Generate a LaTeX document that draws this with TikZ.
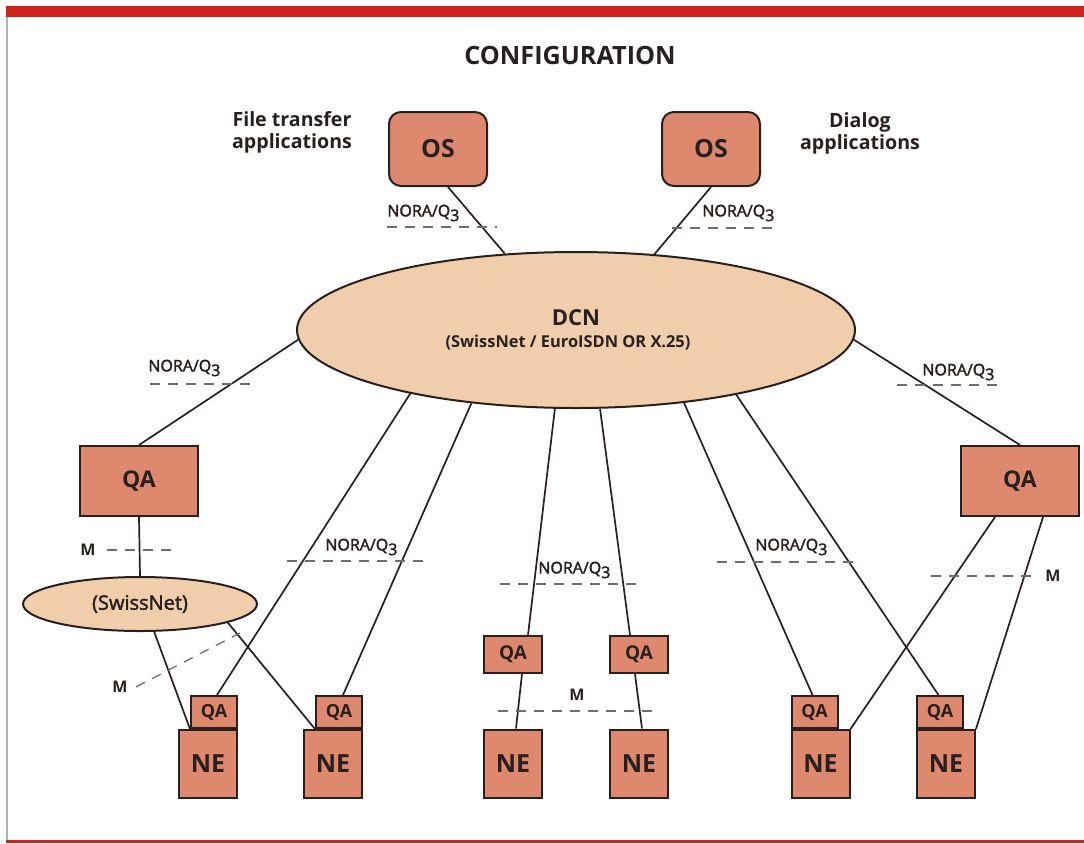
\documentclass[tikz,border=0pt]{standalone}
\usepackage{fontspec}
\setmainfont{Open Sans}
\newfontfamily\medfont{Open Sans}[FakeBold=2.2]
\usetikzlibrary{shapes.geometric}
\definecolor{bandred}{RGB}{208,36,26}
\definecolor{boxsalmon}{RGB}{222,137,110}
\definecolor{netpeach}{RGB}{240,206,172}
\definecolor{inkdark}{RGB}{40,32,30}
\definecolor{dashgrey}{RGB}{112,108,108}
\newcommand{\noraq}{NORA/Q\raisebox{-0.55ex}{3}}

\begin{document}
\begin{tikzpicture}[x=0.5pt,y=-0.5pt,
  box/.style={draw=inkdark, line width=1pt, fill=boxsalmon, text=inkdark, inner sep=0pt},
  osbox/.style={box, rounded corners=6pt, minimum width=49pt, minimum height=37pt, font=\fontsize{12.5}{14}\selectfont\bfseries},
  bigqa/.style={box, minimum width=59pt, minimum height=35pt, font=\fontsize{11.5}{13}\selectfont\bfseries},
  nebox/.style={box, minimum width=29pt, minimum height=34pt, font=\fontsize{12.5}{14}\selectfont\bfseries},
  smallqa/.style={box, minimum width=23pt, minimum height=16pt, font=\fontsize{9}{10}\selectfont\bfseries},
  midqa/.style={box, minimum width=29pt, minimum height=18.5pt, font=\fontsize{9.5}{11}\selectfont\bfseries},
  dcnnet/.style={ellipse, draw=inkdark, line width=1pt, fill=netpeach, text=inkdark, inner sep=0pt,
    minimum width=279pt, minimum height=78pt, align=center, font=\fontsize{11}{10}\selectfont\bfseries},
  swnet/.style={ellipse, draw=inkdark, line width=1pt, fill=netpeach, text=inkdark, inner sep=0pt,
    minimum width=117pt, minimum height=27pt, font=\fontsize{10}{11}\medfont},
  applabel/.style={align=center, text=inkdark, font=\fontsize{9.8}{11}\selectfont\bfseries},
  reflabel/.style={anchor=west, inner sep=0pt, text=inkdark, font=\fontsize{8}{10}\medfont},
  mlabel/.style={inner sep=0pt, text=inkdark, font=\fontsize{8}{10}\selectfont\bfseries},
  refline/.style={draw=dashgrey, line width=0.65pt, dash pattern=on 5pt off 4pt},
  link/.style={draw=inkdark, line width=0.85pt}]
\useasboundingbox (0,0) rectangle (1084,843);

% page frame
\fill[bandred] (6,6) rectangle (1084,17);
\draw[gray!60, line width=0.6pt] (7,17) -- (7,840);
\fill[bandred] (6,840) rectangle (1084,843);

\node[text=inkdark, font=\fontsize{12.6}{14}\selectfont\bfseries] (title) at (570,55) {CONFIGURATION};

% operations systems
\node[osbox] (osft) at (438,149) {OS};
\node[osbox] (osdlg) at (711,149) {OS};
\node[applabel] (ftapp) at (292,132) {File transfer\\applications};
\node[applabel] (dlgapp) at (860,133) {Dialog\\applications};

% data communication network
\node[dcnnet] (dcn) at (576,330) {DCN\\[1pt]{\fontsize{8.2}{9}\selectfont (SwissNet / EuroISDN OR X.25)}\hspace*{8pt}};

% adaptors and elements
\node[bigqa] (qaleft) at (139,481) {QA};
\node[bigqa] (qaright) at (1020,481) {QA};
\node[swnet] (swiss) at (140,604) {(SwissNet)};

\node[nebox] (ne1) at (208,764) {NE};
\node[smallqa, anchor=south east] (qa1) at (ne1.north east) {QA};
\node[nebox] (ne2) at (333,764) {NE};
\node[smallqa, anchor=south east] (qa2) at (ne2.north east) {QA};
\node[nebox] (ne3) at (513,763.5) {NE};
\node[midqa] (qa3) at (513,654.5) {QA};
\node[nebox] (ne4) at (639,763.5) {NE};
\node[midqa] (qa4) at (639,654.5) {QA};
\node[nebox] (ne5) at (820.5,764) {NE};
\node[smallqa, anchor=south west] (qa5) at (ne5.north west) {QA};
\node[nebox] (ne6) at (946,764) {NE};
\node[smallqa, anchor=south west] (qa6) at (ne6.north west) {QA};

% links
\draw[link] ([xshift=5pt]osft.south) -- (dcn.133.4);
\draw[link] (osdlg.south) -- (dcn.44.6);
\draw[link] (dcn.182.7) -- (qaleft.north);
\draw[link] (dcn.-2.5) -- (qaright.north);
\draw[link] (qaleft.south) -- (swiss.north);
\draw[link] (swiss.-63) -- (qa1.south west);
\draw[link] (swiss.-12) -- (qa2.south west);
\draw[link] (dcn.201.6) -- ([xshift=1.5pt]qa1.north);
\draw[link] (dcn.215.6) -- ([xshift=2pt]qa2.north);
\draw[link] (dcn.255.6) -- ([xshift=7.5pt]qa3.north);
\draw[link] (dcn.287.3) -- ([xshift=-4.5pt]qa4.north);
\draw[link] ([xshift=4.5pt]qa3.south) -- ([xshift=1.5pt]ne3.north);
\draw[link] ([xshift=-2pt]qa4.south) -- ([xshift=1.5pt]ne4.north);
\draw[link] (dcn.326.1) -- ([xshift=-1pt]qa5.north);
\draw[link] (dcn.338.1) -- ([xshift=-0.75pt]qa6.north);
\draw[link] ([xshift=-12.5pt]qaright.south) -- (ne5.north east);
\draw[link] ([xshift=11.5pt]qaright.south) -- (ne6.north east);

% reference points
\node[reflabel] (nora1) at (387,213) {\noraq};
\draw[refline] (387,227) -- (497,227);
\node[reflabel] (nora2) at (702,213) {\noraq};
\draw[refline] (672,228) -- (777,228);
\node[reflabel] (nora3) at (148,368) {\noraq};
\draw[refline] (150,384) -- (257,384);
\node[reflabel] (nora4) at (922,372) {\noraq};
\draw[refline] (897,385) -- (1000,385);
\node[reflabel] (nora5) at (325,547) {\noraq};
\draw[refline] (287,561) -- (425,561);
\node[reflabel] (nora6) at (538,570) {\noraq};
\draw[refline] (500,584) -- (638,584);
\node[reflabel] (nora7) at (755,547) {\noraq};
\draw[refline] (717,562) -- (855,562);

\node[mlabel] (mqa) at (88,550) {M};
\draw[refline] (107,550) -- (173,550);
\node[mlabel] (mswiss) at (120,687) {M};
\coordinate (mswisstip) at (240,633);
\draw[refline] ([xshift=4pt]mswiss.east) -- (mswisstip);
\node[mlabel] (mmid) at (577,695) {M};
\draw[refline] (498,711) -- (657,711);
\node[mlabel] (mright) at (1053,576) {M};
\draw[refline] (931,576) -- (1038,576);
\end{tikzpicture}
\end{document}
